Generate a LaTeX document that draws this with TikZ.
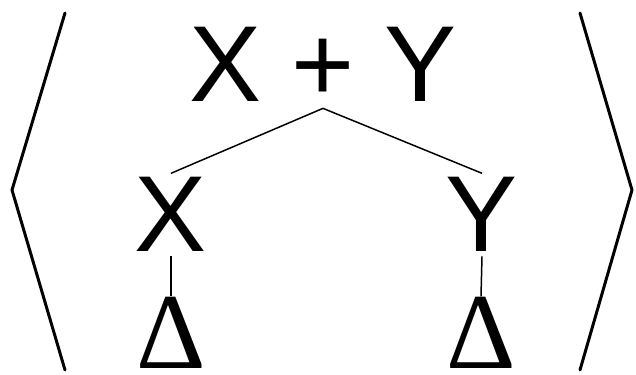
\documentclass[tikz,border=0pt]{standalone}
\usepackage{fontspec}
\setmainfont{Liberation Sans}
\newfontfamily\deltafont{Liberation Serif}
\usepackage{tikz}
\usetikzlibrary{positioning,calc}
\tikzset{
  bigtext/.style={font=\fontsize{61.5pt}{70pt}\selectfont,anchor=base,inner sep=0.08cm},
  deltatext/.style={font=\deltafont\fontsize{61.5pt}{70pt}\selectfont,anchor=base,inner sep=0pt},
  bracket/.style={line width=1.7pt,line join=round,line cap=round},
  link/.style={line width=0.85pt,line join=round}
}
\begin{document}
\begin{tikzpicture}[x=0.02cm,y=-0.02cm]
\useasboundingbox (0,0) rectangle (636,375);

% the whole expression and its two parts
\node[bigtext,inner sep=0.12cm] (sum) at (323,102) {X + Y};
\node[bigtext] (lx) at (171,252) {X};
\node[bigtext] (ry) at (482,252) {Y};
\node[deltatext] (ldelta) at (171,368) {Δ};
\node[deltatext] (rdelta) at (481,368) {Δ};

\draw[link] (lx.north) -- (sum.south) -- (ry.north);
\draw[link] (lx.south) -- (ldelta.north);
\draw[link] (ry.south) -- (rdelta.north);

% angle brackets
\draw[bracket] (65,13) -- (12,190) -- (65,370);
\draw[bracket] (580,13) -- (632,190) -- (580,370);

\end{tikzpicture}
\end{document}
